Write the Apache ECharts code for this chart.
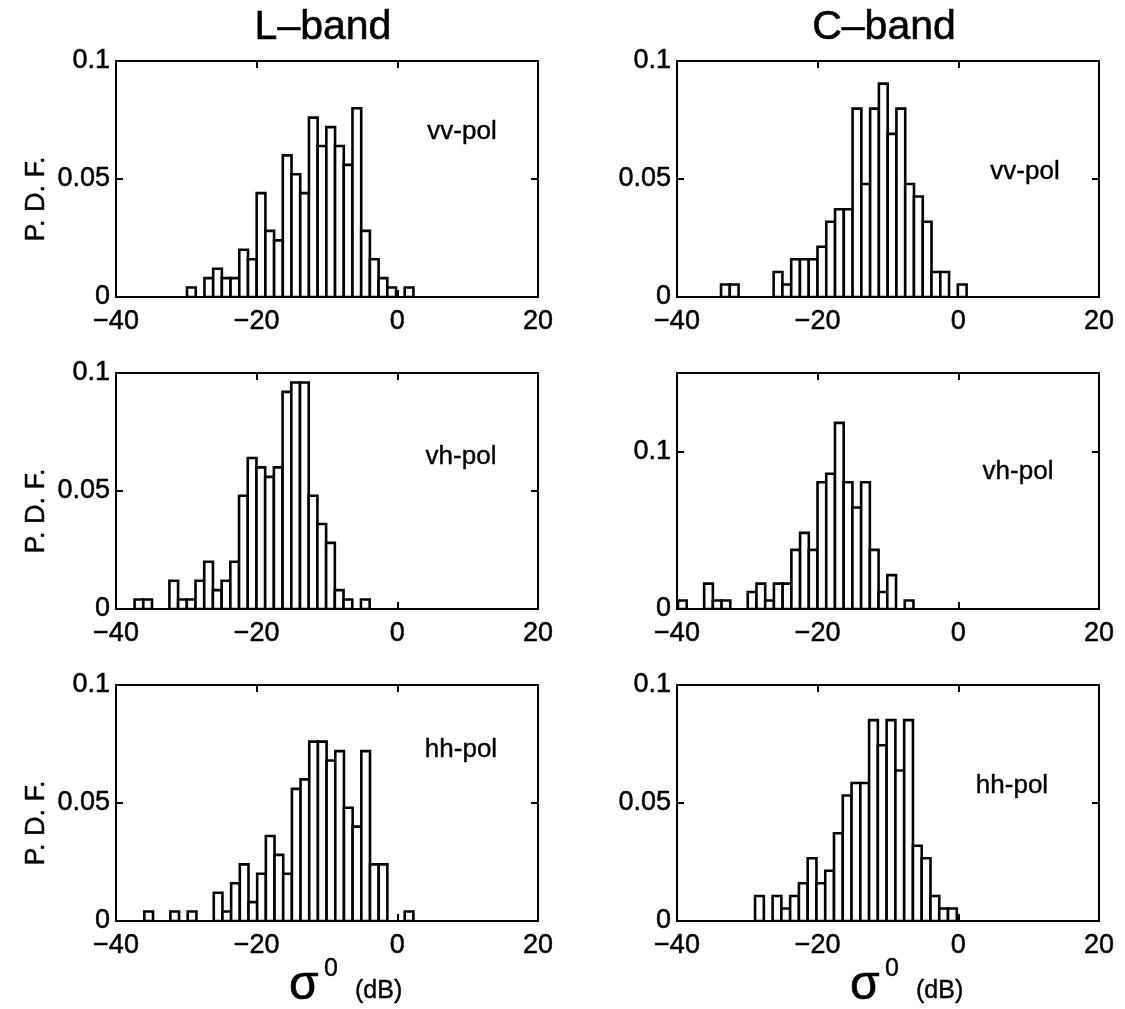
<!DOCTYPE html>
<html>
<head>
<meta charset="utf-8">
<script src="https://cdn.jsdelivr.net/npm/echarts@6/dist/echarts.min.js"></script>
<style>
  html, body { margin: 0; padding: 0; background: #fff; }
  #chart { width: 1125px; height: 1009px; }
</style>
</head>
<body>
<div id="chart"></div>
<script>
// sigma0 axis (dB)
const xMin = -40;
const xMax = 20;
const xStep = 20;

// L-band histograms: first bin edge, bin width (dB), P.D.F. per bin
const lVvStart = -29.9;
const lVvWidth = 1.238;
const lVv = [0.004, 0, 0.008, 0.012, 0.008, 0.008, 0.020, 0.016, 0.044, 0.028, 0.024, 0.060, 0.052,
  0.044, 0.076, 0.064, 0.072, 0.064, 0.056, 0.080, 0.028, 0.016, 0.008, 0.004, 0, 0.004];

const lVhStart = -37.36;
const lVhWidth = 1.238;
const lVh = [0.004, 0.004, 0, 0, 0.012, 0.004, 0.004, 0.012, 0.020, 0.008, 0.012, 0.020, 0.048, 0.064,
  0.060, 0.056, 0.060, 0.092, 0.096, 0.096, 0.048, 0.036, 0.028, 0.008, 0.004, 0, 0.004];

const lHhStart = -35.97;
const lHhWidth = 1.234;
const lHh = [0.004, 0, 0, 0.004, 0, 0.004, 0, 0, 0.012, 0.004, 0.016, 0.024, 0.008, 0.020, 0.036, 0.028,
  0.020, 0.056, 0.060, 0.076, 0.076, 0.068, 0.072, 0.048, 0.040, 0.072, 0.024, 0.024, 0, 0, 0.004];

// C-band histograms
const cVvStart = -33.74;
const cVvWidth = 1.247;
const cVv = [0.0053, 0.0053, 0, 0, 0, 0, 0.0106, 0.0053, 0.016, 0.016, 0.016, 0.0213, 0.0319, 0.0372,
  0.0372, 0.0798, 0.0479, 0.0798, 0.0904, 0.0691, 0.0798, 0.0479, 0.0426, 0.0319, 0.0106, 0.0106, 0, 0.0053];

const cVhStart = -39.86;
const cVhWidth = 1.24;
const cVh = [0.0054, 0, 0, 0.0161, 0.0054, 0.0054, 0, 0, 0.0108, 0.0161, 0.0054, 0.0161, 0.0161, 0.0376,
  0.0484, 0.0376, 0.0806, 0.086, 0.1183, 0.0806, 0.0645, 0.0806, 0.0376, 0.0108, 0.0215, 0, 0.0054];

const cHhStart = -28.9;
const cHhWidth = 1.247;
const cHh = [0.0106, 0, 0.0106, 0.0053, 0.0106, 0.016, 0.0266, 0.016, 0.0213, 0.0372, 0.0532, 0.0585,
  0.0585, 0.0851, 0.0745, 0.0851, 0.0638, 0.0851, 0.0319, 0.0266, 0.0106, 0.0053, 0.0053];

const bandTitles = ['L\u2013band', 'C\u2013band'];
const polNames = ['vv-pol', 'vh-pol', 'hh-pol'];

const FONT = '"Liberation Sans", Arial, Helvetica, sans-serif';

// panel layout (px)
const colLeft = [116, 677];
const rowTop = [61, 373, 685];
const plotW = 422;
const plotH = 236;

const panels = [
  { col: 0, row: 0, start: lVvStart, width: lVvWidth, values: lVv, yMax: 0.1, yStep: 0.05, pol: [462, 132] },
  { col: 1, row: 0, start: cVvStart, width: cVvWidth, values: cVv, yMax: 0.1, yStep: 0.05, pol: [1025, 172] },
  { col: 0, row: 1, start: lVhStart, width: lVhWidth, values: lVh, yMax: 0.1, yStep: 0.05, pol: [461, 457] },
  { col: 1, row: 1, start: cVhStart, width: cVhWidth, values: cVh, yMax: 0.15, yStep: 0.1, pol: [1018, 472] },
  { col: 0, row: 2, start: lHhStart, width: lHhWidth, values: lHh, yMax: 0.1, yStep: 0.05, pol: [461, 750] },
  { col: 1, row: 2, start: cHhStart, width: cHhWidth, values: cHh, yMax: 0.1, yStep: 0.05, pol: [1012, 786] }
];

const black = '#000';
const axisLine = { show: true, onZero: false, lineStyle: { color: black, width: 2 } };
const axisTick = { show: true, inside: true, length: 7, lineStyle: { color: black, width: 2 } };
const minus = v => (v < 0 ? '\u2212' + Math.abs(v) : String(v));
// scanned print looks slightly heavy
const ink = { color: black, fontFamily: FONT, textBorderColor: black, textBorderWidth: 0.5 };

const chart = echarts.init(document.getElementById('chart'), null, { renderer: 'canvas' });

const grid = [];
const xAxis = [];
const yAxis = [];
const series = [];
const graphic = [];

panels.forEach((p, i) => {
  grid.push({
    left: colLeft[p.col], top: rowTop[p.row], width: plotW, height: plotH,
    containLabel: false, outerBoundsMode: 'none', show: false
  });
  ['bottom', 'top'].forEach(pos => {
    xAxis.push({
      type: 'value', gridIndex: i, position: pos, min: xMin, max: xMax, interval: xStep,
      axisLine, axisTick, splitLine: { show: false },
      axisLabel: Object.assign({ show: pos === 'bottom', margin: 11, fontSize: 27, formatter: minus }, ink)
    });
  });
  ['left', 'right'].forEach(pos => {
    yAxis.push({
      type: 'value', gridIndex: i, position: pos, min: 0, max: p.yMax, interval: p.yStep,
      axisLine, axisTick, splitLine: { show: false },
      axisLabel: Object.assign({ show: pos === 'left', margin: 6, fontSize: 27, showMaxLabel: p.yMax === 0.1 }, ink)
    });
  });

  const bins = p.values.map((h, k) => [p.start + k * p.width, p.start + (k + 1) * p.width, h]);
  series.push({
    type: 'custom',
    xAxisIndex: i * 2,
    yAxisIndex: i * 2,
    silent: true,
    clip: true,
    data: bins,
    encode: { x: [0, 1], y: 2 },
    renderItem: (params, api) => {
      const h = api.value(2);
      if (!h) return null;
      const a = api.coord([api.value(0), 0]);
      const b = api.coord([api.value(1), h]);
      return {
        type: 'rect',
        shape: { x: a[0], y: b[1], width: b[0] - a[0], height: a[1] - b[1] },
        style: { fill: '#fff', stroke: black, lineWidth: 2.6 }
      };
    }
  });

  graphic.push({
    type: 'text', x: p.pol[0], y: p.pol[1],
    style: {
      text: polNames[p.row], fill: black, font: '26px ' + FONT, stroke: black, lineWidth: 0.4,
      textAlign: 'center', textVerticalAlign: 'middle'
    }
  });
});

// column titles
bandTitles.forEach((t, c) => {
  graphic.push({
    type: 'text', x: colLeft[c] + plotW / 2 - 4, y: 28,
    style: {
      text: t, fill: black, font: '41px ' + FONT, stroke: black, lineWidth: 0.6,
      textAlign: 'center', textVerticalAlign: 'middle'
    }
  });
});

// y titles
rowTop.forEach(t => {
  graphic.push({
    type: 'text', x: 37, y: t + plotH / 2 + 20, rotation: Math.PI / 2,
    style: {
      text: 'P. D. F.', fill: black, font: '27px ' + FONT, stroke: black, lineWidth: 0.4,
      textAlign: 'center', textVerticalAlign: 'middle'
    }
  });
});

// x titles: sigma^0 (dB)
colLeft.forEach(l => {
  const x0 = l + 173;
  graphic.push({
    type: 'text', x: x0, y: 986,
    style: { text: '\u03c3', fill: black, font: '48px ' + FONT, stroke: black, lineWidth: 0.6,
      textAlign: 'left', textVerticalAlign: 'middle' }
  });
  graphic.push({
    type: 'text', x: x0 + 35, y: 969,
    style: { text: '0', fill: black, font: '25px ' + FONT, stroke: black, lineWidth: 0.4,
      textAlign: 'left', textVerticalAlign: 'middle' }
  });
  graphic.push({
    type: 'text', x: x0 + 66, y: 991,
    style: { text: '(dB)', fill: black, font: '25px ' + FONT, stroke: black, lineWidth: 0.4,
      textAlign: 'left', textVerticalAlign: 'middle' }
  });
});

chart.setOption({
  backgroundColor: '#fff',
  animation: false,
  grid,
  xAxis,
  yAxis,
  series,
  graphic
});

window.addEventListener('resize', () => chart.resize());
</script>
</body>
</html>
